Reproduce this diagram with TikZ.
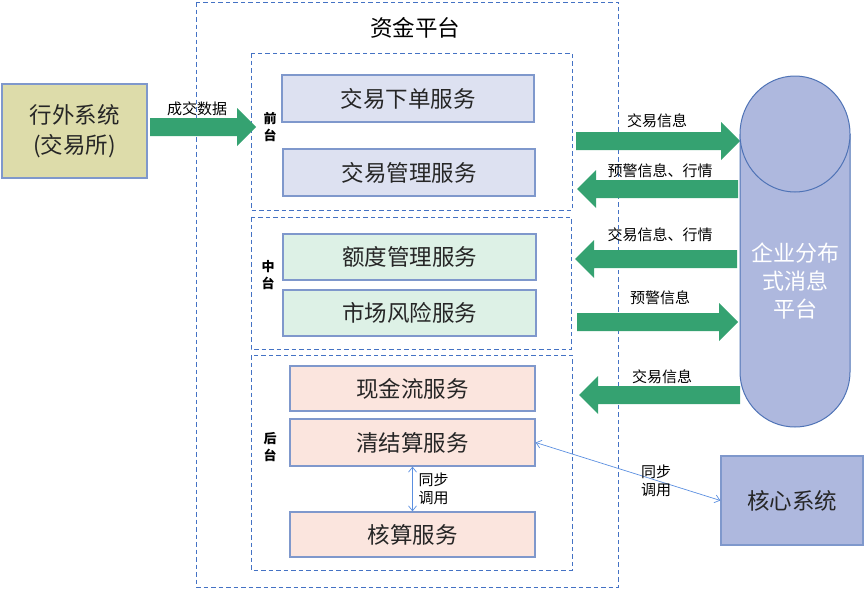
\documentclass[tikz,border=0pt]{standalone}
\usepackage{fontspec}
\setmainfont{Noto Sans CJK SC}
\usetikzlibrary{arrows.meta}

\definecolor{dashblue}{HTML}{4472C4}
\definecolor{boxline}{HTML}{7F98CC}
\definecolor{frontfill}{HTML}{DDE1F1}
\definecolor{midfill}{HTML}{DDF1E6}
\definecolor{backfill}{HTML}{FBE5DE}
\definecolor{extfill}{HTML}{DDDCAA}
\definecolor{mqfill}{HTML}{AEB8DE}
\definecolor{mqline}{HTML}{4F73B6}
\definecolor{flowgreen}{HTML}{35A271}
\definecolor{callblue}{HTML}{5B8FE0}

% block arrows: tail x, tip x, height
\newcommand{\flowright}[3]{%
  \fill[flowgreen] (#1,{#3-9}) -- ({#2-19},{#3-9}) -- ({#2-19},{#3-19}) -- (#2,#3)
    -- ({#2-19},{#3+19}) -- ({#2-19},{#3+9}) -- (#1,{#3+9}) -- cycle;}
% tip x, tail x, height
\newcommand{\flowleft}[3]{%
  \fill[flowgreen] (#2,{#3-9}) -- ({#1+19},{#3-9}) -- ({#1+19},{#3-19}) -- (#1,#3)
    -- ({#1+19},{#3+19}) -- ({#1+19},{#3+9}) -- (#2,{#3+9}) -- cycle;}

\tikzset{
  svc/.style={draw=boxline, line width=1.2pt, font=\fontsize{22.5}{25}\selectfont, text=black!85},
  zone/.style={draw=dashblue, dash pattern=on 4.5pt off 3pt, line width=0.9pt},
  tag/.style={font=\fontsize{13}{17}\selectfont\bfseries, align=center},
  note/.style={font=\fontsize{15}{18}\selectfont, align=center},
  call/.style={draw=callblue, line width=0.7pt,
    {Straight Barb[length=5pt,width=8pt]}-{Straight Barb[length=5pt,width=8pt]}},
}

\begin{document}
\begin{tikzpicture}[x=1pt,y=-1pt]
\useasboundingbox (0,0) rectangle (864,589);

% platform and its three layers
\draw[zone] (196,2) rectangle (618,587);
\node[font=\fontsize{22.5}{25}\selectfont] (title) at (415,28) {资金平台};
\draw[zone] (251,53) rectangle (572,210);
\draw[zone] (251,217) rectangle (571,349);
\draw[zone] (251,355) rectangle (572,570);
\node[tag] (front) at (270,127) {前\\台};
\node[tag] (middle) at (268,275) {中\\台};
\node[tag] (back) at (270,447) {后\\台};

% services
\node[svc, fill=frontfill, minimum width=252pt, minimum height=47pt] (order) at (408,98.5) {交易下单服务};
\node[svc, fill=frontfill, minimum width=252pt, minimum height=47pt] (trade) at (409,172.5) {交易管理服务};
\node[svc, fill=midfill, minimum width=253pt, minimum height=46pt] (limit) at (409.5,257) {额度管理服务};
\node[svc, fill=midfill, minimum width=253pt, minimum height=46pt] (risk) at (409.5,313) {市场风险服务};
\node[svc, fill=backfill, minimum width=245pt, minimum height=45pt] (cash) at (412.5,388.5) {现金流服务};
\node[svc, fill=backfill, minimum width=245pt, minimum height=47pt] (settle) at (412.5,442.5) {清结算服务};
\node[svc, fill=backfill, minimum width=245pt, minimum height=45pt] (acct) at (412.5,534.5) {核算服务};

% outside systems
\node[svc, fill=extfill, minimum width=145pt, minimum height=94pt, align=center,
  font=\fontsize{22.5}{30}\selectfont] (ext) at (74.5,131) {行外系统\\(交易所)};
\node[svc, fill=mqfill, minimum width=142pt, minimum height=89pt] (core) at (792,500.5) {核心系统};

% data flows
\flowright{150}{256}{127}
\node[note] (deal) at (197,109) {成交数据};
\flowright{576}{740}{141}
\node[note] (f1) at (657,121) {交易信息};
\flowleft{577}{738}{189}
\node[note] (f2) at (660,171) {预警信息、行情};
\flowleft{575}{737}{259}
\node[note] (f3) at (660,235) {交易信息、行情};
\flowright{577}{738}{322}
\node[note] (f4) at (660,298) {预警信息};
\flowleft{579}{740}{395}
\node[note] (f5) at (662,377) {交易信息};

% message platform
\filldraw[fill=mqfill, draw=mqline, line width=1pt] (740,134) -- (740,372)
  arc[start angle=180, end angle=0, radius=55] -- (850,134);
\filldraw[fill=mqfill, draw=mqline, line width=1pt] (795,134) ellipse[x radius=55, y radius=58];
\node[align=center, text=white, font=\fontsize{22}{28}\selectfont] (mq) at (795,281) {企业分布\\式消息\\平台};

% synchronous calls
\draw[call] (settle.east) -- (core.west);
\node[note] (c1) at (656,481) {同步\\调用};
\draw[call] (settle) -- (acct);
\node[note, anchor=west] (c2) at (415,489) {同步\\调用};
\end{tikzpicture}
\end{document}
